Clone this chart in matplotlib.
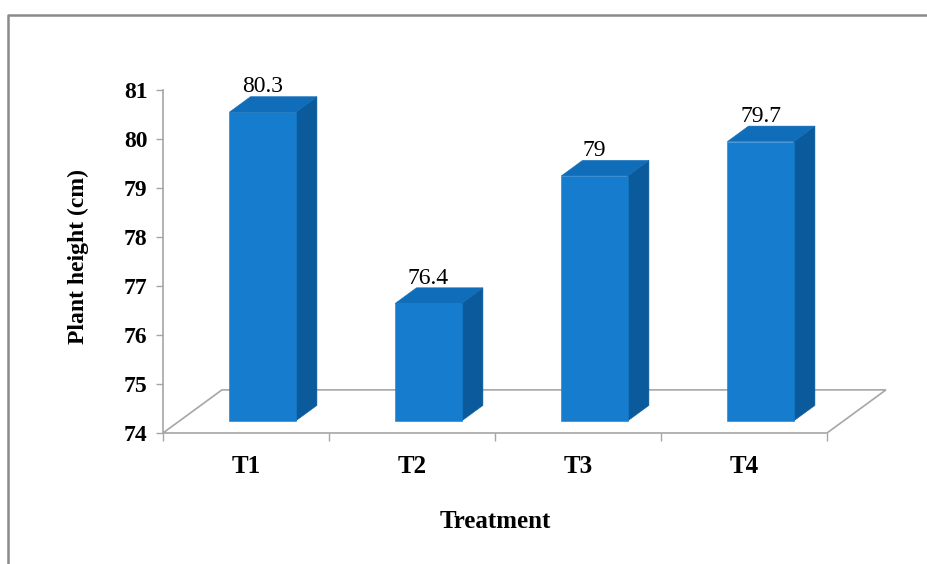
import matplotlib
matplotlib.use("Agg")
import matplotlib.pyplot as plt
from matplotlib.patches import Polygon
from matplotlib.lines import Line2D

# Plant height per treatment
treatments = ["T1", "T2", "T3", "T4"]
plant_height = [80.3, 76.4, 79.0, 79.7]
value_labels = ["80.3", "76.4", "79", "79.7"]
y_ticks = [74, 75, 76, 77, 78, 79, 80, 81]
y_min, y_max = 74, 81

# Oblique projection of the depth direction, expressed in data units
DEPTH_X = 0.355   # category units for the full floor depth
DEPTH_Y = 0.88    # value units for the full floor depth
FRONT, BACK = 0.28, 0.64  # where the columns sit inside the floor depth
HALF_W = 0.2

FACE = "#167cce"
TOP = "#106db9"
SIDE = "#0b5b9c"
GRID = "#a6a6a6"

plt.rcParams["font.family"] = ["Liberation Serif", "DejaVu Serif"]

fig = plt.figure(figsize=(9.28, 5.64), dpi=100)
ax = fig.add_axes([163 / 928, 131 / 564, 664 / 928, 343 / 564])
n = len(treatments)
ax.set_xlim(-0.5, n - 0.5)
ax.set_ylim(y_min, y_max)
ax.patch.set_visible(False)

# Floor of the 3-D plot area
x0, x1 = -0.5, n - 0.5
floor = [(x0, y_min), (x1, y_min),
         (x1 + DEPTH_X, y_min + DEPTH_Y), (x0 + DEPTH_X, y_min + DEPTH_Y)]
ax.add_patch(Polygon(floor, closed=True, facecolor="white", edgecolor=GRID,
                     lw=1.2, clip_on=False, zorder=1))

fx, fy = FRONT * DEPTH_X, FRONT * DEPTH_Y
bx, by = BACK * DEPTH_X, BACK * DEPTH_Y
for i, (v, lab) in enumerate(zip(plant_height, value_labels)):
    l, r = i - HALF_W, i + HALF_W
    front = [(l + fx, y_min + fy), (r + fx, y_min + fy), (r + fx, v + fy), (l + fx, v + fy)]
    side = [(r + fx, y_min + fy), (r + bx, y_min + by), (r + bx, v + by), (r + fx, v + fy)]
    top = [(l + fx, v + fy), (r + fx, v + fy), (r + bx, v + by), (l + bx, v + by)]
    for poly, col in ((side, SIDE), (front, FACE), (top, TOP)):
        ax.add_patch(Polygon(poly, closed=True, facecolor=col, edgecolor=col,
                             lw=0.4, clip_on=False, zorder=3))
    ax.annotate(lab, (i + fx, v + by), xytext=(0, 7), textcoords="offset points",
                ha="center", va="center", fontsize=17, color="black",
                annotation_clip=False, zorder=5)

# Axes styling
for s in ("top", "right", "bottom"):
    ax.spines[s].set_visible(False)
ax.spines["left"].set_color(GRID)
ax.spines["left"].set_linewidth(1.2)

ax.set_yticks(y_ticks)
ax.set_yticklabels([str(t) for t in y_ticks])
ax.tick_params(axis="y", length=5, width=1, color=GRID, pad=6, labelsize=17)

ax.set_xticks(range(n))
ax.set_xticklabels(treatments)
ax.set_xticks([k - 0.5 for k in range(n + 1)], minor=True)
ax.tick_params(axis="x", which="major", length=0, pad=16, labelsize=18)
ax.tick_params(axis="x", which="minor", length=6, width=1, color=GRID)
for t in ax.get_xticklabels() + ax.get_yticklabels():
    t.set_fontweight("bold")

ax.set_xlabel("Treatment", fontsize=18, fontweight="bold")
ax.xaxis.label.set_va("center")
ax.xaxis.set_label_coords(0.5, -(522 - 433) / 343)
ax.set_ylabel("Plant height (cm)", fontsize=17, fontweight="bold")
ax.yaxis.label.set_va("center")
ax.yaxis.set_label_coords(-(163 - 78) / 664, (433 - 257) / 343)

# Chart border
fig.add_artist(Line2D([8 / 928, 8 / 928, 1.0], [0.0, 1 - 15 / 564, 1 - 15 / 564],
                      transform=fig.transFigure, color="#8a8a8a", lw=1.8))

fig.savefig("out.png", dpi=100)
